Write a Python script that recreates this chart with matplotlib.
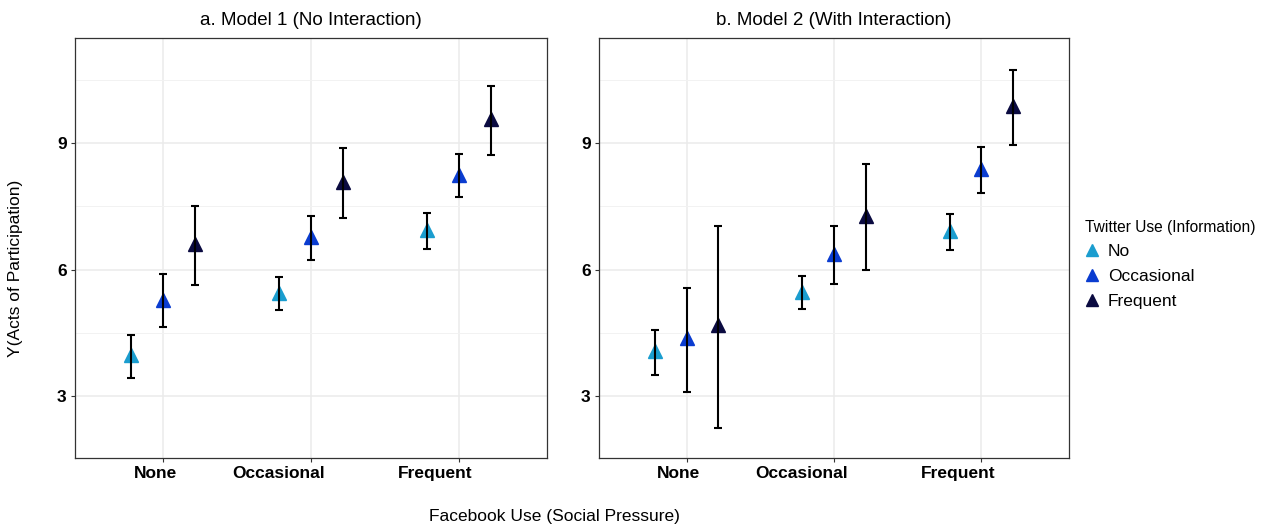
import numpy as np
import matplotlib.pyplot as plt

plt.rcParams["font.family"] = ["Liberation Sans", "DejaVu Sans"]

# Datos
facebook = ["None", "Occasional", "Frequent"]
twitter = ["No", "Occasional", "Frequent"]
colores = ["#1a9dcf", "#0a3cd0", "#0a0a40"]

# Modelo 1 (sin interaccion): filas = twitter, columnas = facebook
m1_est = [[3.97, 5.44, 6.93],
          [5.27, 6.77, 8.24],
          [6.60, 8.07, 9.56]]
m1_lo = [[3.43, 5.04, 6.48],
         [4.63, 6.22, 7.72],
         [5.63, 7.22, 8.71]]
m1_hi = [[4.45, 5.82, 7.34],
         [5.89, 7.27, 8.73],
         [7.50, 8.88, 10.35]]

# Modelo 2 (con interaccion)
m2_est = [[4.07, 5.46, 6.91],
          [4.37, 6.36, 8.38],
          [4.68, 7.27, 9.87]]
m2_lo = [[3.50, 5.06, 6.46],
         [3.10, 5.65, 7.81],
         [2.24, 5.98, 8.95]]
m2_hi = [[4.56, 5.84, 7.31],
         [5.56, 7.03, 8.90],
         [7.03, 8.50, 10.74]]

titulos = ["a. Model 1 (No Interaction)", "b. Model 2 (With Interaction)"]
modelos = [(m1_est, m1_lo, m1_hi), (m2_est, m2_lo, m2_hi)]

W, H = 1264, 525
fig = plt.figure(figsize=(W / 100, H / 100), dpi=100)

# posiciones de los paneles en pixeles
paneles = [(75, 38, 547, 458), (599, 38, 1069, 458)]
dodge = 0.216
x = np.arange(1, 4)
desfase = 14 / 148  # etiquetas x alineadas a la derecha, algo a la derecha del tick

for k, (est, lo, hi) in enumerate(modelos):
    x0, y0, x1, y1 = paneles[k]
    ax = fig.add_axes([x0 / W, 1 - y1 / H, (x1 - x0) / W, (y1 - y0) / H])
    est = np.array(est)
    lo = np.array(lo)
    hi = np.array(hi)
    for i in range(3):
        xs = x + (i - 1) * dodge
        ax.plot(xs, est[i], linestyle="none", marker="^", markersize=10,
                color=colores[i], zorder=3, label=twitter[i])
        ax.errorbar(xs, est[i], yerr=[est[i] - lo[i], hi[i] - est[i]],
                    fmt="none", ecolor="black", elinewidth=1.5, capsize=3,
                    capthick=1.5, zorder=4)
    ax.set_xlim(0.405, 3.595)
    ax.set_ylim(1.53, 11.49)
    ax.set_yticks([3, 6, 9])
    ax.set_yticks([4.5, 7.5, 10.5], minor=True)
    ax.set_xticks(x)
    ax.set_xticklabels([""] * 3)
    for xi, nombre in zip(x, facebook):
        ax.text(xi + desfase, -0.018, nombre, transform=ax.get_xaxis_transform(),
                ha="right", va="top", fontsize=12.5, fontweight="bold")
    ax.set_yticklabels(["3", "6", "9"], fontsize=12.5, fontweight="bold")
    ax.grid(True, which="major", color="#ebebeb", linewidth=1.1, zorder=0)
    ax.grid(True, which="minor", axis="y", color="#f2f2f2", linewidth=0.7, zorder=0)
    ax.set_axisbelow(True)
    ax.tick_params(which="major", length=3, width=0.8, color="#333333", pad=3)
    ax.tick_params(which="minor", length=0)
    for s in ax.spines.values():
        s.set_color("#333333")
        s.set_linewidth(0.9)
    ax.set_title(titulos[k], fontsize=13.5, pad=9)
    if k == 1:
        leg = ax.legend(loc="upper left", bbox_to_anchor=(1.0, 0.605),
                        title="Twitter Use (Information)", frameon=False,
                        fontsize=12.5, title_fontsize=11.2, handletextpad=0.55,
                        markerscale=0.8, borderaxespad=0.5, labelspacing=0.55,
                        handlelength=0.8)
        leg._legend_box.align = "left"

fig.text(554 / W, 1 - 516 / H, "Facebook Use (Social Pressure)", fontsize=12.5,
         ha="center", va="center")
fig.text(16 / W, 1 - 268 / H, "Y(Acts of Participation)", fontsize=12.5,
         ha="center", va="center", rotation=90)

fig.savefig("out.png", dpi=100)
